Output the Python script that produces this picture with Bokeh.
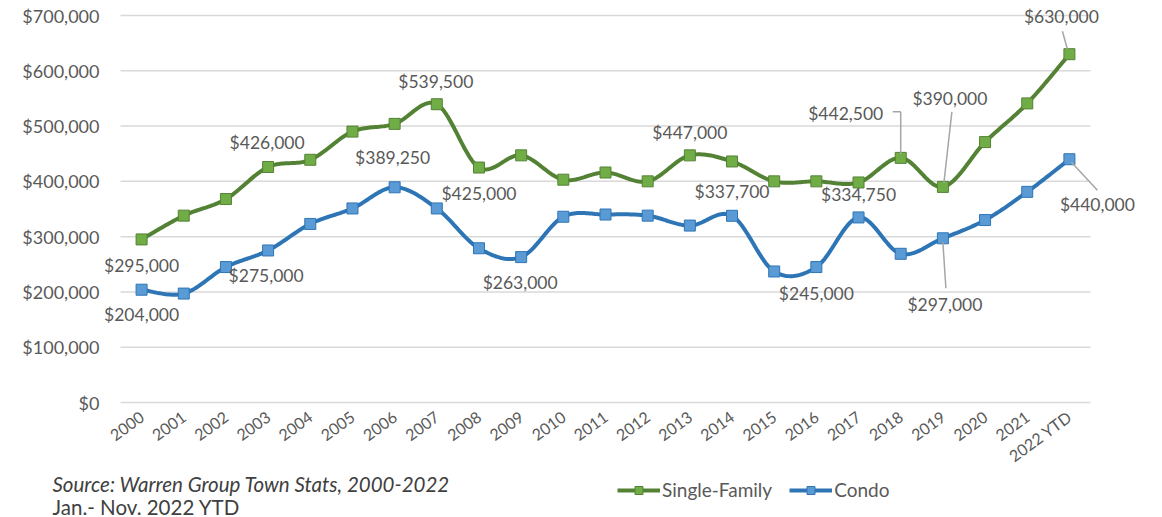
import numpy as np
from bokeh.plotting import figure
from bokeh.models import (ColumnDataSource, LabelSet, Legend, LegendItem,
                          NumeralTickFormatter, FixedTicker, Label, Arrow, Range1d)
from bokeh.embed import file_html
from bokeh.resources import INLINE
from bokeh.core.properties import value

# ---------------- data ----------------
years = ["2000", "2001", "2002", "2003", "2004", "2005", "2006", "2007", "2008",
         "2009", "2010", "2011", "2012", "2013", "2014", "2015", "2016", "2017",
         "2018", "2019", "2020", "2021", "2022 YTD"]
single_family = [295000, 338000, 368000, 426000, 439000, 490000, 504000, 539500,
                 425000, 447000, 403000, 416000, 400000, 447000, 436000, 400000,
                 400000, 398000, 442500, 390000, 471000, 541000, 630000]
condo = [204000, 197000, 245000, 275000, 323000, 351000, 389250, 351000, 279000,
         263000, 336000, 340000, 338000, 320000, 337700, 237000, 245000, 334750,
         269000, 297000, 330000, 381000, 440000]
y_ticks = [0, 100000, 200000, 300000, 400000, 500000, 600000, 700000]
source_lines = ["Source: Warren Group Town Stats, 2000-2022", "Jan.- Nov. 2022 YTD"]

# labelled points: (series, year index)
label_series = ["sf", "c", "c", "sf", "c", "sf", "sf", "c", "sf", "c", "c", "c",
                "sf", "sf", "c", "sf", "c"]
label_index = [0, 0, 3, 3, 6, 7, 8, 9, 13, 14, 16, 17, 18, 19, 19, 22, 22]

# ---------------- style / layout ----------------
W, H = 1162, 517
# plot area (pixels inside the canvas)
PL, PR = 120, 1090      # x of left / right edge of the category band
PT, PB = 15, 402        # y (from top) of 700,000 / 0
Y_MAX = 700000
NX = len(years)
px_x = NX / (PR - PL)           # data units per pixel (x)
px_y = Y_MAX / (PB - PT)        # data units per pixel (y)
x_start = -0.5 - PL * px_x
x_end = NX - 0.5 + (W - PR) * px_x
y_start = -(H - PB) * px_y
y_end = Y_MAX + PT * px_y

FONT = "Lato"
TXT = "#595959"
GREEN_L, GREEN_F = "#548235", "#70AD47"
BLUE_L, BLUE_F = "#2E75B6", "#5B9BD5"

# label offsets in pixels (dx right, dy up)
label_dx = [0, 0, -2, -1, -2, -1, 0, -1, 0, 0, 0, 0, -55, 7, 2, -8, 28]
label_dy = [-26, -25, -25, 24, 30, 23, -26, -25, 23, 24, -26, 23, 44, 88, -66, 38, -45]
# leader lines: (label #, list of pixel offsets from the point)
leaders = {
    12: [(-8, 46), (0, 46), (0, 4)],
    13: [(9, 75), (1, 4)],
    14: [(0, -4), (3, -50)],
    15: [(-7, 23), (-2, 5)],
    16: [(2, -3), (28, -31)],
}

x = np.arange(NX, dtype=float)


def smooth(xs, ys, n=24):
    pts = np.column_stack([xs, ys]).astype(float)
    P = np.vstack([pts[0], pts, pts[-1]])
    segs = []
    t = np.linspace(0, 1, n, endpoint=False)[:, None]
    for i in range(len(pts) - 1):
        p0, p1, p2, p3 = P[i], P[i + 1], P[i + 2], P[i + 3]
        c1 = p1 + (p2 - p0) / 6.0
        c2 = p2 - (p3 - p1) / 6.0
        b = ((1 - t) ** 3) * p1 + 3 * ((1 - t) ** 2) * t * c1 + 3 * (1 - t) * (t ** 2) * c2 + (t ** 3) * p2
        segs.append(b)
    segs.append(pts[-1:])
    out = np.vstack(segs)
    return out[:, 0], out[:, 1]


p = figure(width=W, height=H, output_backend="svg", toolbar_location=None,
           x_range=Range1d(x_start, x_end), y_range=Range1d(y_start, y_end),
           min_border=0, min_border_left=0, min_border_right=0,
           min_border_top=0, min_border_bottom=0, outline_line_color=None)
p.background_fill_color = "white"
p.border_fill_color = "white"

# grid (drawn only across the category band)
p.xgrid.grid_line_color = None
p.ygrid.grid_line_color = None
p.segment(x0=[-0.5] * len(y_ticks), x1=[NX - 0.5] * len(y_ticks), y0=y_ticks, y1=y_ticks,
          line_color="#D9D9D9", line_width=1.5)

# axes, fixed at the plot area's edges
p.yaxis.ticker = FixedTicker(ticks=y_ticks)
p.yaxis.formatter = NumeralTickFormatter(format="$0,0")
p.yaxis.fixed_location = -0.5
p.xaxis.ticker = FixedTicker(ticks=list(range(NX)))
p.xaxis.major_label_overrides = {i: y for i, y in enumerate(years)}
p.xaxis.major_label_orientation = 0.63
p.xaxis.fixed_location = 0
for ax in (p.xaxis, p.yaxis):
    ax.axis_line_color = None
    ax.major_tick_line_color = None
    ax.minor_tick_line_color = None
    ax.major_tick_out = 0
    ax.major_tick_in = 0
    ax.major_label_text_font = FONT
    ax.major_label_text_color = TXT
p.yaxis.major_label_text_font_size = "18px"
p.yaxis.major_label_standoff = 21
p.xaxis.major_label_text_font_size = "16px"
p.xaxis.major_label_standoff = 12

# series
sx, sy = smooth(x, single_family)
cx, cy = smooth(x, condo)
l_sf = p.line(sx, sy, line_color=GREEN_L, line_width=4)
m_sf = p.scatter(x, single_family, marker="square", size=11, fill_color=GREEN_F,
                 line_color=GREEN_L, line_width=1)
l_c = p.line(cx, cy, line_color=BLUE_L, line_width=4)
m_c = p.scatter(x, condo, marker="square", size=11, fill_color=BLUE_F,
                line_color=BLUE_L, line_width=1)

# data labels
vals = [single_family[i] if s == "sf" else condo[i] for s, i in zip(label_series, label_index)]
lab_src = ColumnDataSource(dict(
    x=[float(i) for i in label_index], y=vals,
    text=["${:,}".format(v) for v in vals],
    dx=label_dx, dy=label_dy))
p.add_layout(LabelSet(x="x", y="y", text="text", x_offset="dx", y_offset="dy",
                      source=lab_src, text_align="center", text_baseline="middle",
                      text_font=value(FONT), text_font_size="17.5px", text_color=TXT))

# leader lines
for k, pts in leaders.items():
    bx, by = label_index[k], vals[k]
    for (ax0, ay0), (ax1, ay1) in zip(pts[:-1], pts[1:]):
        p.add_layout(Arrow(end=None, x_start=bx + ax0 * px_x, y_start=by + ay0 * px_y,
                           x_end=bx + ax1 * px_x, y_end=by + ay1 * px_y,
                           line_color="#A6A6A6", line_width=1.5))

# source note (screen units from the canvas' bottom-left)
for j, s in enumerate(source_lines):
    p.add_layout(Label(x=52, y=[34, 11][j], x_units="screen", y_units="screen", text=s,
                       text_font=FONT, text_font_size="20.5px", text_color="#404040",
                       text_font_style="italic" if j == 0 else "normal",
                       text_baseline="middle", text_align="left"))

# legend
legend = Legend(items=[LegendItem(label="Single-Family", renderers=[l_sf, m_sf]),
                       LegendItem(label="Condo", renderers=[l_c, m_c])],
                location=(617, 16), orientation="horizontal",
                glyph_width=43, glyph_height=20, label_standoff=2, spacing=17,
                padding=0, margin=0, border_line_color=None,
                background_fill_alpha=0, label_text_font=FONT,
                label_text_font_size="19px", label_text_color=TXT)
p.add_layout(legend, "center")

open("out.html", "w").write(file_html(p, INLINE))
